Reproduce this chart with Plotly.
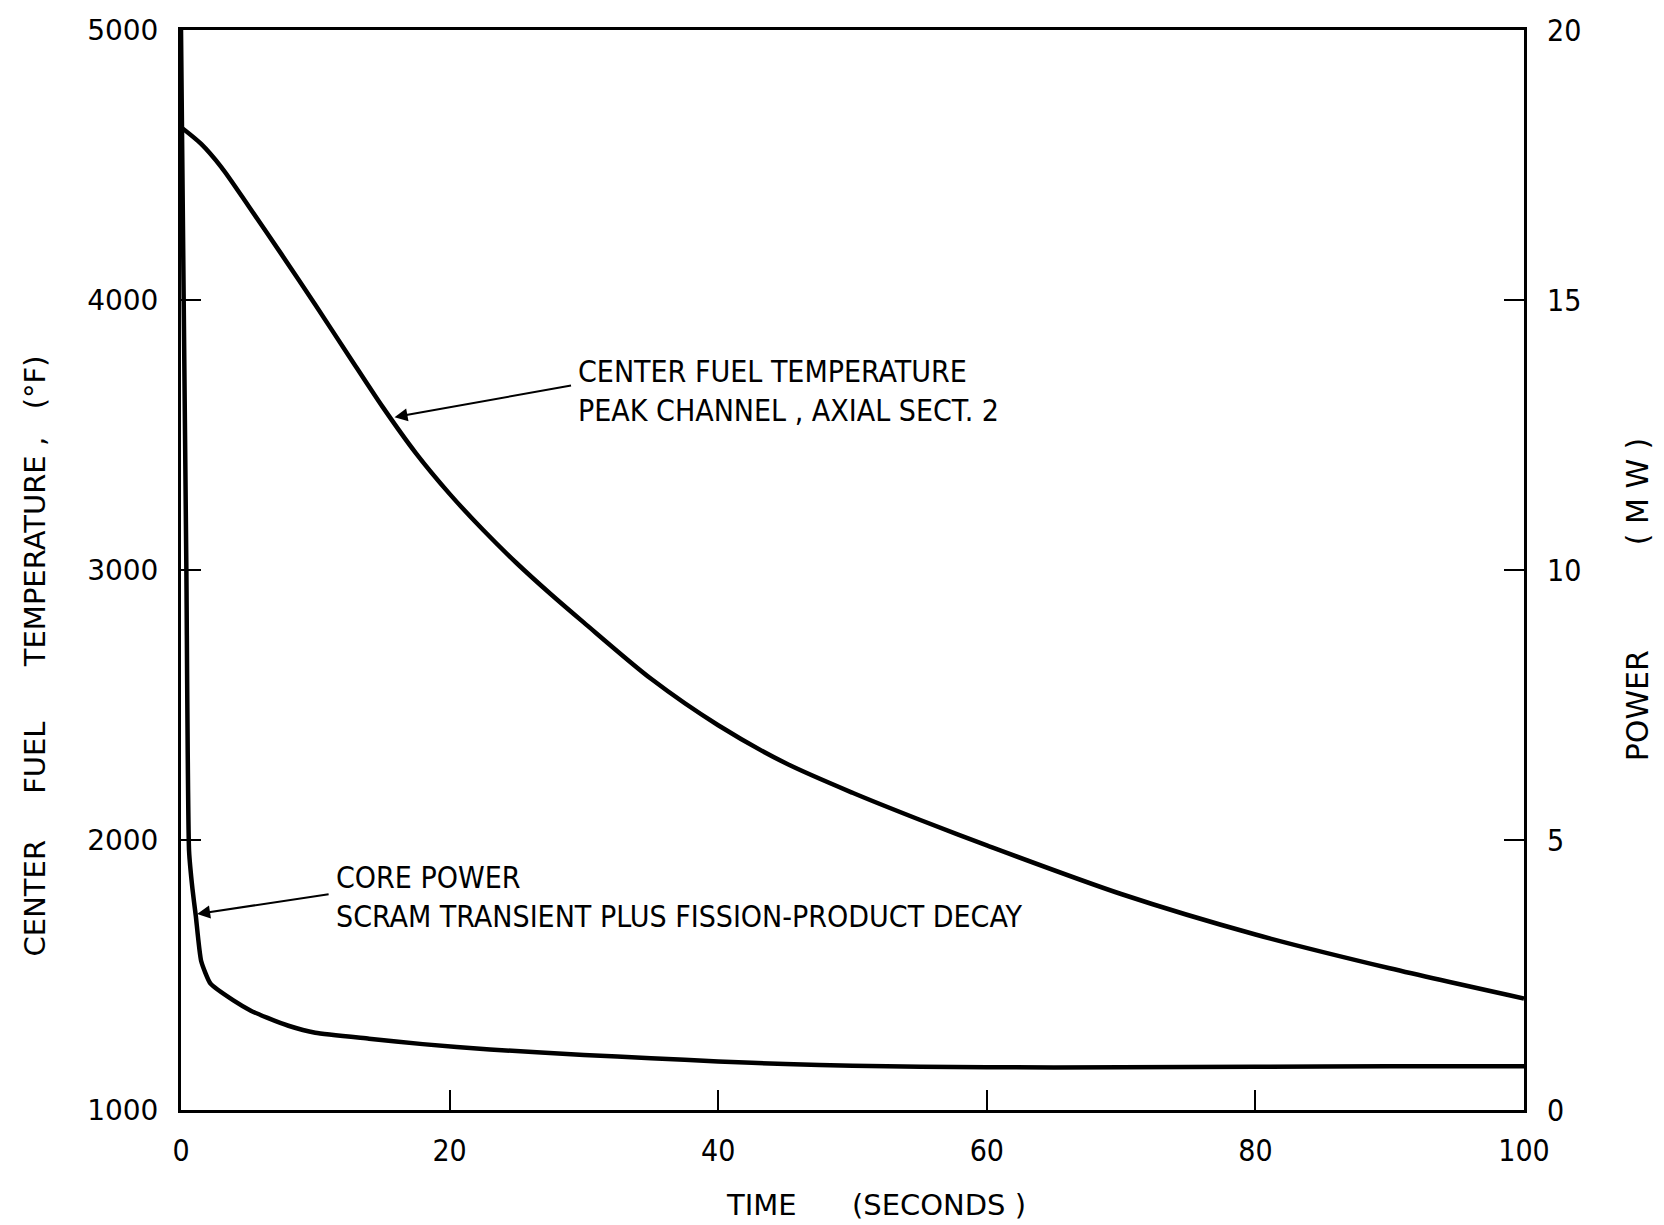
import plotly.graph_objects as go

# ---- data ----
temp_time = [0, 1.5, 3, 5, 7.5, 10, 12.5, 15, 17.5, 20, 22.5, 25, 27.5, 30, 35, 40, 45, 50, 55, 60, 70, 80, 90, 100]
temp_values = [4640, 4578, 4492, 4350, 4168, 3982, 3793, 3605, 3432, 3282, 3148, 3025, 2912, 2805, 2597, 2425, 2285, 2175, 2075, 1980, 1800, 1650, 1525, 1413]

power_time = [0, 0.2, 0.4, 0.6, 0.85, 1.1, 1.5, 2.2, 3.9, 5.2, 6.4, 8, 10, 14, 18, 23, 30, 35, 40, 45, 50, 60, 70, 80, 90, 100]
power_values = [20, 15, 10, 4.8, 4.1, 3.6, 2.76, 2.34, 2.03, 1.84, 1.71, 1.56, 1.43, 1.32, 1.22, 1.12, 1.02, 0.96, 0.9, 0.85, 0.82, 0.79, 0.79, 0.8, 0.81, 0.81]

x_ticks = [0, 20, 40, 60, 80, 100]
temp_ticks = [1000, 2000, 3000, 4000, 5000]
power_ticks = [0, 5, 10, 15, 20]

NARROW = "Liberation Sans Narrow, Arial Narrow, DejaVu Sans Condensed, Liberation Sans, sans-serif"
WIDE = "DejaVu Sans, Liberation Sans, sans-serif"
NB = "\u00a0"

fig = go.Figure()
fig.add_trace(go.Scatter(x=temp_time, y=temp_values, mode="lines",
                         line=dict(color="black", width=4.5, shape="spline", smoothing=0.8),
                         name="Center fuel temperature", yaxis="y"))
fig.add_trace(go.Scatter(x=power_time, y=power_values, mode="lines",
                         line=dict(color="black", width=4.5, shape="spline", smoothing=0.5),
                         name="Core power", yaxis="y2"))

axis_common = dict(showgrid=False, zeroline=False, showline=True, linecolor="black", linewidth=3,
                   ticks="inside", ticklen=20, tickwidth=2, tickcolor="black")

fig.update_layout(
    width=1664, height=1225,
    margin=dict(l=181, r=140, t=25, b=115),
    paper_bgcolor="white", plot_bgcolor="white",
    showlegend=False,
    xaxis=dict(range=[0, 100], tickvals=x_ticks, mirror=True,
               tickfont=dict(family=NARROW, size=30, color="black"),
               ticklabelstandoff=12, **axis_common),
    yaxis=dict(range=[1000, 5000], tickvals=temp_ticks,
               tickfont=dict(family=WIDE, size=28, color="black"),
               ticklabelstandoff=14, **axis_common),
    yaxis2=dict(range=[0, 20], tickvals=power_ticks, overlaying="y", side="right",
                tickfont=dict(family=NARROW, size=30, color="black"),
                ticklabelstandoff=14, **axis_common),
)

left_title = "CENTER" + NB * 5 + "FUEL" + NB * 6 + "TEMPERATURE" + NB + "," + NB * 3 + "(°F)"
right_title = "POWER" + NB * 11 + "(" + NB + "M" + NB + "W" + NB + ")"
x_title = "TIME" + NB * 6 + "(SECONDS" + NB + ")"

annotations = [
    dict(text=left_title, xref="paper", yref="paper", x=-0.1087, y=0.42, textangle=-90,
         showarrow=False, xanchor="center", yanchor="middle",
         font=dict(family=WIDE, size=29, color="black")),
    dict(text=right_title, xref="paper", yref="paper", x=1.0841, y=0.4728, textangle=-90,
         showarrow=False, xanchor="center", yanchor="middle",
         font=dict(family=WIDE, size=30, color="black")),
    dict(text=x_title, xref="paper", yref="paper", x=0.5175, y=-0.0876,
         showarrow=False, xanchor="center", yanchor="middle",
         font=dict(family=WIDE, size=29, color="black")),
    # curve labels
    dict(text="CENTER FUEL TEMPERATURE<br>PEAK CHANNEL" + NB + ", AXIAL SECT. 2",
         xref="x", yref="y", x=29.4, y=3662, showarrow=False, xanchor="left", yanchor="middle",
         align="left", font=dict(family=NARROW, size=30, color="black")),
    dict(text="CORE POWER<br>SCRAM TRANSIENT PLUS FISSION-PRODUCT DECAY",
         xref="x", yref="y2", x=11.4, y=3.94, showarrow=False, xanchor="left", yanchor="middle",
         align="left", font=dict(family=NARROW, size=30, color="black")),
    # leader arrows
    dict(text="", xref="x", yref="y", x=15.9, y=3566, showarrow=True, ax=178, ay=-32,
         arrowhead=2, arrowsize=1.3, arrowwidth=2, arrowcolor="black", standoff=0),
    dict(text="", xref="x", yref="y2", x=1.2, y=3.63, showarrow=True, ax=133, ay=-20,
         arrowhead=2, arrowsize=1.3, arrowwidth=2, arrowcolor="black", standoff=0),
]
fig.update_layout(annotations=annotations)

fig.write_html("out.html")
